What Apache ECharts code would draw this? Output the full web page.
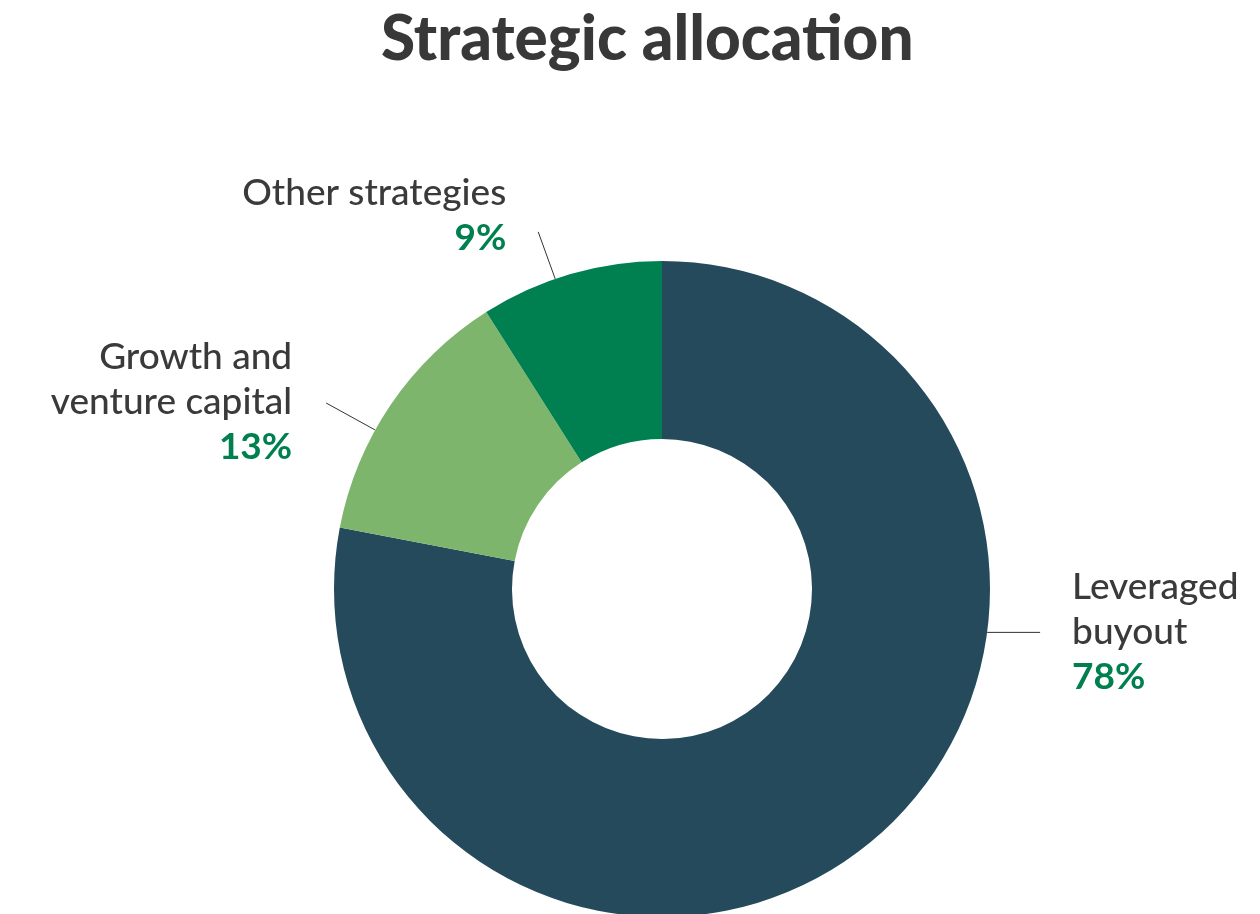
<!DOCTYPE html>
<html>
<head>
<meta charset="utf-8">
<script src="https://cdn.jsdelivr.net/npm/echarts@6/dist/echarts.min.js"></script>
<style>
  html, body { margin: 0; padding: 0; background: #fff; }
  #chart { width: 1260px; height: 914px; }
</style>
</head>
<body>
<div id="chart"></div>
<script>
const categories = ['Leveraged\nbuyout', 'Growth and\nventure capital', 'Other strategies']
const shares = [78, 13, 9]
const sliceColors = ['#254a5c', '#7db56d', '#007f50']

// pie geometry (px)
const cx = 662
const cy = 589
const outerR = 328
const innerR = 150

// where each label line leaves the ring, and where its text sits
const labelPlacement = [
  { angle: 97.6, line: [53, 0], text: [32, 0], align: 'left' },
  { angle: 299, line: [-49, -27], text: [-34, -1], align: 'right' },
  { angle: 341, line: [-17, -47], text: [-32, -16], align: 'right' }
]

const chart = echarts.init(document.getElementById('chart'))

chart.setOption({
  animation: false,
  title: {
    text: 'Strategic allocation',
    left: 376,
    top: 4,
    textStyle: {
      fontFamily: 'Lato',
      fontWeight: 900,
      fontSize: 62,
      color: '#383838'
    }
  },
  series: [{
    type: 'pie',
    center: [cx, cy],
    radius: [innerR, outerR],
    startAngle: 90,
    clockwise: true,
    data: categories.map((name, i) => ({
      name,
      value: shares[i],
      itemStyle: { color: sliceColors[i] }
    })),
    label: {
      show: true,
      formatter: p => '{name|' + p.name + '}\n{pct|' + p.value + '%}',
      rich: {
        name: {
          fontFamily: 'Lato',
          fontSize: 37,
          fontWeight: 500,
          color: '#3a3a3a',
          lineHeight: 45
        },
        pct: {
          fontFamily: 'Lato',
          fontSize: 37,
          fontWeight: 'bold',
          color: '#00804f',
          lineHeight: 45
        }
      }
    },
    labelLine: {
      show: true,
      lineStyle: { color: '#333', width: 1 }
    },
    labelLayout: params => {
      const pl = labelPlacement[params.dataIndex]
      const a = pl.angle * Math.PI / 180
      const sx = cx + outerR * Math.sin(a)
      const sy = cy - outerR * Math.cos(a)
      const ex = sx + pl.line[0]
      const ey = sy + pl.line[1]
      return {
        x: ex + pl.text[0],
        y: ey + pl.text[1],
        align: pl.align,
        verticalAlign: 'middle',
        labelLinePoints: [[sx, sy], [ex, ey], [ex, ey]]
      }
    }
  }]
})
</script>
</body>
</html>
